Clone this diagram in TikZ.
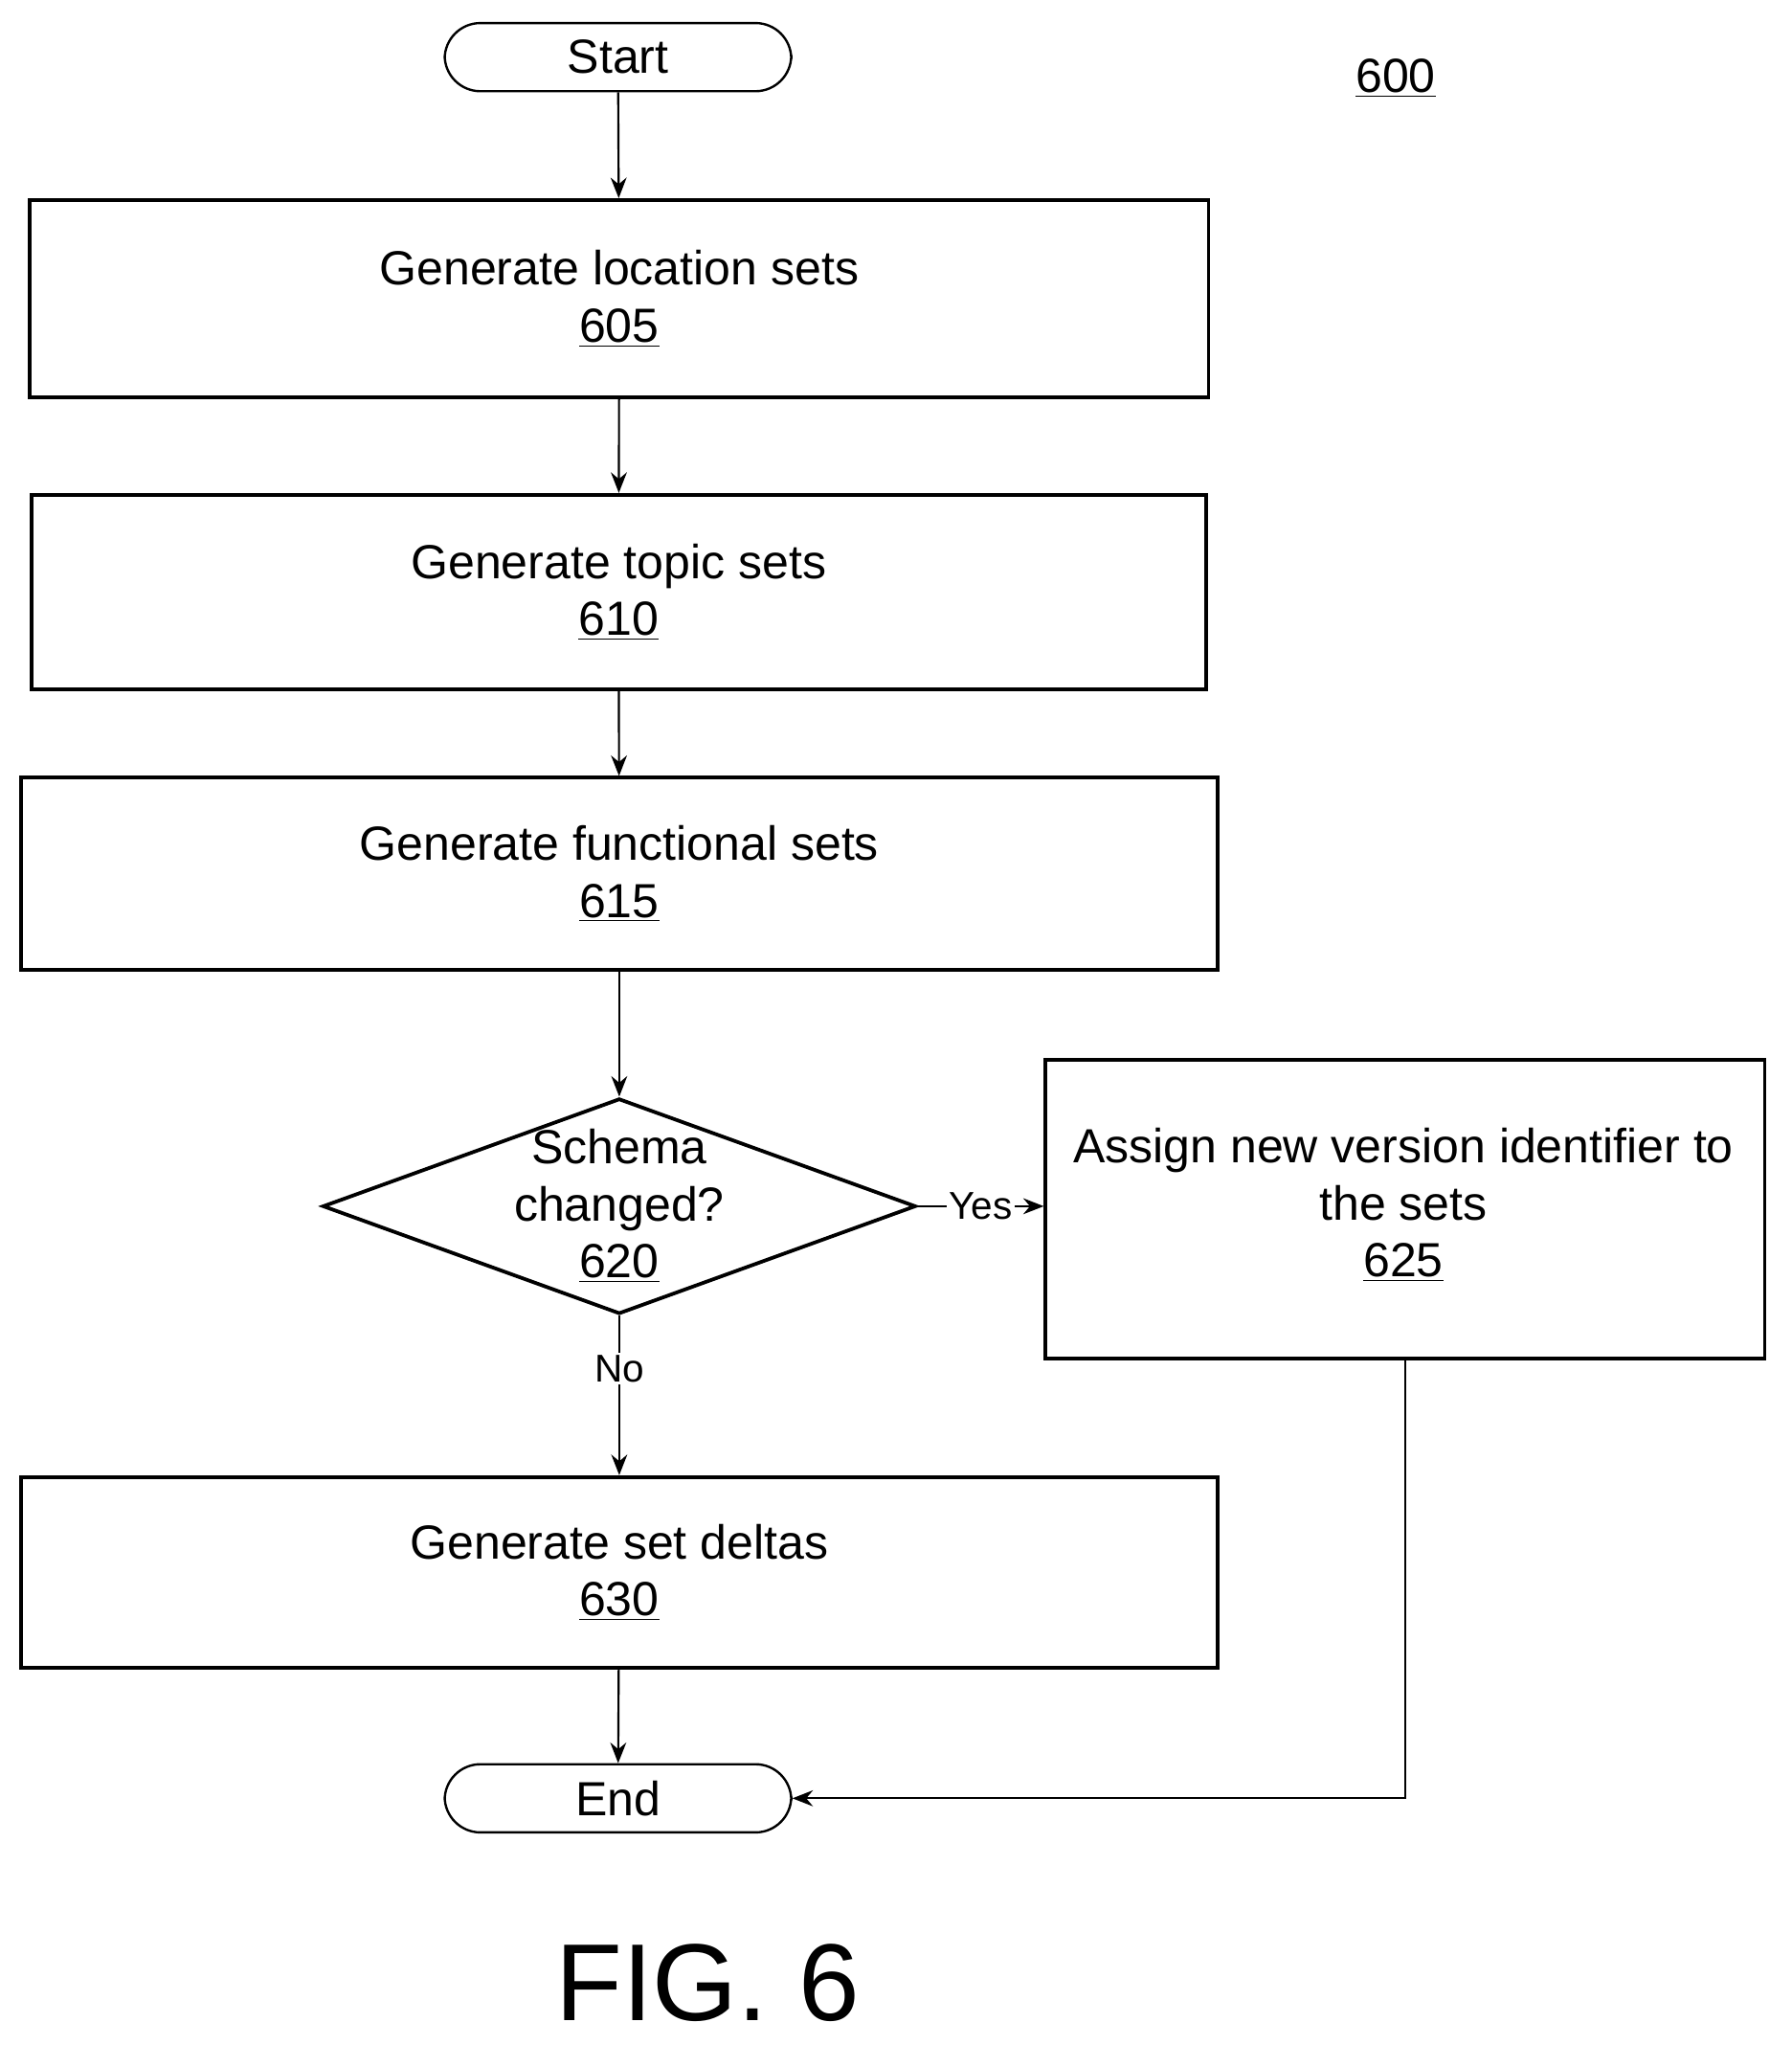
\documentclass[tikz,border=0pt]{standalone}
\usepackage{fontspec}
\setmainfont{Liberation Sans}
\usetikzlibrary{shapes.geometric,arrows.meta}
\begin{document}
\begin{tikzpicture}[x=0.02cm,y=-0.02cm,
  box/.style={draw,line width=1.6pt,inner sep=0pt,align=center,font=\fontsize{21}{25}\selectfont},
  term/.style={draw,line width=1pt,rounded corners=0.55cm,minimum width=5.34cm,minimum height=1.05cm,font=\fontsize{21}{25}\selectfont},
  arr/.style={-{Stealth[length=9pt,width=7pt]},line width=0.9pt},
  lbl/.style={font=\fontsize{17}{20}\selectfont,fill=white,inner sep=1pt}]
\useasboundingbox (0,0) rectangle (1380,1575);
\node[term] (start) at (476,44) {Start};
\node[font=\fontsize{21}{25}\selectfont] (n600) at (1075,60) {\underline{600}};
\node[box,minimum width=18.16cm,minimum height=3.04cm] (b605) at (477,230) {Generate location sets\\\underline{605}};
\node[box,minimum width=18.1cm,minimum height=3.0cm] (b610) at (476.5,456) {Generate topic sets\\\underline{610}};
\node[box,minimum width=18.44cm,minimum height=2.96cm] (b615) at (477,673) {Generate functional sets\\\underline{615}};
\node[draw,line width=1.6pt,diamond,aspect=2.75,minimum width=9.14cm,minimum height=3.32cm,inner sep=0pt] (d620) at (477,929) {};
\node[align=center,font=\fontsize{21}{25}\selectfont] (t620) at (477,929) {Schema\\changed?\\\underline{620}};
\node[draw,line width=1.6pt,minimum width=11.08cm,minimum height=4.6cm,anchor=north west,inner sep=0pt] (b625) at (804,815) {};
\node[align=center,font=\fontsize{21}{25}\selectfont] (t625) at (1081,928) {Assign new version identifier to\\the sets\\\underline{625}};
\node[box,minimum width=18.44cm,minimum height=2.94cm] (b630) at (477,1211) {Generate set deltas\\\underline{630}};
\node[term] (end) at (476,1385) {End};
\node[font=\fontsize{48}{54}\selectfont] (fig) at (545,1527) {FIG. 6};
\draw[arr] (start) -- (b605);
\draw[arr] (b605) -- (b610);
\draw[arr] (b610) -- (b615);
\draw[arr] (b615) -- (d620.north);
\draw[arr] (d620.east) -- node[lbl]{Yes} (b625.west |- d620.east);
\draw[arr] (d620.south) -- node[lbl,pos=0.33]{No} (b630);
\draw[arr] (b625.south) |- (end.east);
\draw[arr] (b630) -- (end);
\end{tikzpicture}
\end{document}
